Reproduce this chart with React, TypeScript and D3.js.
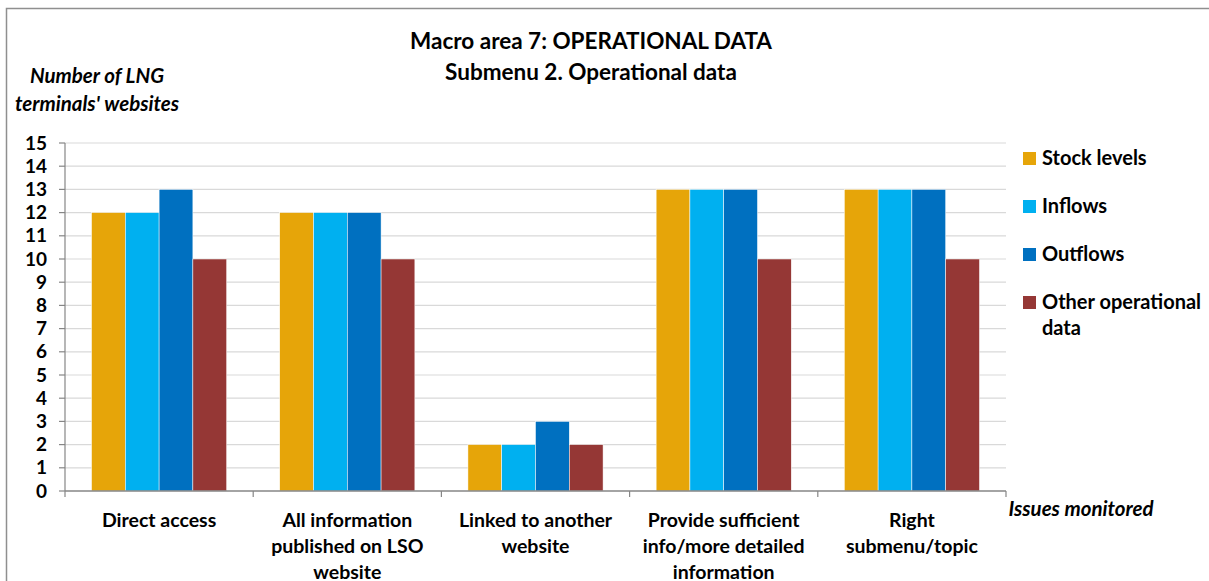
import React from "react";
import * as d3 from "d3";

const categories: string[][] = [
  ["Direct access"],
  ["All information", "published on LSO", "website"],
  ["Linked to another", "website"],
  ["Provide sufficient", "info/more detailed", "information"],
  ["Right", "submenu/topic"],
];
const seriesNames: string[][] = [["Stock levels"], ["Inflows"], ["Outflows"], ["Other operational", "data"]];
const seriesColors = ["#E6A509", "#00B0F0", "#0070C0", "#953735"];
const stockLevels = [12, 12, 2, 13, 13];
const inflows = [12, 12, 2, 13, 13];
const outflows = [13, 12, 3, 13, 13];
const otherData = [10, 10, 2, 10, 10];
const yTicks = [0, 1, 2, 3, 4, 5, 6, 7, 8, 9, 10, 11, 12, 13, 14, 15];

const FONT = "Lato, 'Open Sans', sans-serif";

export default function App() {
  const series = [stockLevels, inflows, outflows, otherData];
  const left = 65, right = 1006, top = 143, bottom = 491;
  const x0 = d3.scaleBand<number>().domain(d3.range(categories.length)).range([left, right]).paddingInner(0.282).paddingOuter(0.141);
  const x1 = d3.scaleBand<number>().domain(d3.range(series.length)).range([0, x0.bandwidth()]);
  const y = d3.scaleLinear().domain([0, 15]).range([bottom, top]);
  const step = (right - left) / categories.length;

  return (
    <svg width={1209} height={581} style={{ position: "absolute", left: 0, top: 0, background: "#fff" }}>
      <rect x={6.5} y={8.5} width={1220} height={600} fill="#fff" stroke="#8f8f8f" strokeWidth={1.5} />
      <text x={591} y={49} textAnchor="middle" fontFamily={FONT} fontWeight="bold" fontSize={22.5} fill="#000">Macro area 7: OPERATIONAL DATA</text>
      <text x={591} y={80} textAnchor="middle" fontFamily={FONT} fontWeight="bold" fontSize={22.5} fill="#000">Submenu 2. Operational data</text>
      <text x={97} y={83} textAnchor="middle" fontFamily={FONT} fontWeight="bold" fontStyle="italic" fontSize={20.5} fill="#000">Number of LNG</text>
      <text x={97} y={111} textAnchor="middle" fontFamily={FONT} fontWeight="bold" fontStyle="italic" fontSize={20.5} fill="#000">terminals' websites</text>
      {yTicks.map((t) => (
        <g key={t}>
          {t > 0 && <line x1={left} x2={right} y1={y(t)} y2={y(t)} stroke="#d9d9d9" strokeWidth={1.2} />}
          <line x1={left - 6} x2={left} y1={y(t)} y2={y(t)} stroke="#868686" strokeWidth={1.2} />
          <text x={47} y={y(t) + 6.5} textAnchor="end" fontFamily={FONT} fontWeight="bold" fontSize={19} fill="#000">{t}</text>
        </g>
      ))}
      {categories.map((c, i) =>
        series.map((s, j) => (
          <rect key={`${i}-${j}`} x={(x0(i) as number) + (x1(j) as number)} y={y(s[i])} width={x1.bandwidth()} height={bottom - y(s[i])} fill={seriesColors[j]} stroke="#fff" strokeWidth={0.5} />
        ))
      )}
      <line x1={left} x2={left} y1={top} y2={bottom} stroke="#868686" strokeWidth={1.2} />
      <line x1={left} x2={right} y1={bottom} y2={bottom} stroke="#868686" strokeWidth={1.5} />
      {d3.range(categories.length + 1).map((i) => (
        <line key={i} x1={left + i * step} x2={left + i * step} y1={bottom} y2={bottom + 6} stroke="#868686" strokeWidth={1.2} />
      ))}
      {categories.map((c, i) =>
        c.map((line, k) => (
          <text key={`${i}-${k}`} x={(x0(i) as number) + x0.bandwidth() / 2} y={527 + k * 26} textAnchor="middle" fontFamily={FONT} fontWeight="bold" fontSize={19.5} fill="#000">{line}</text>
        ))
      )}
      <text x={1081} y={516} textAnchor="middle" fontFamily={FONT} fontWeight="bold" fontStyle="italic" fontSize={20.5} fill="#000">Issues monitored</text>
      {seriesNames.map((n, j) => (
        <g key={j}>
          <rect x={1023} y={152 + j * 48} width={13} height={13} fill={seriesColors[j]} />
          {n.map((line, k) => (
            <text key={k} x={1042} y={165 + j * 48 + k * 26} fontFamily={FONT} fontWeight="bold" fontSize={20} fill="#000">{line}</text>
          ))}
        </g>
      ))}
    </svg>
  );
}
